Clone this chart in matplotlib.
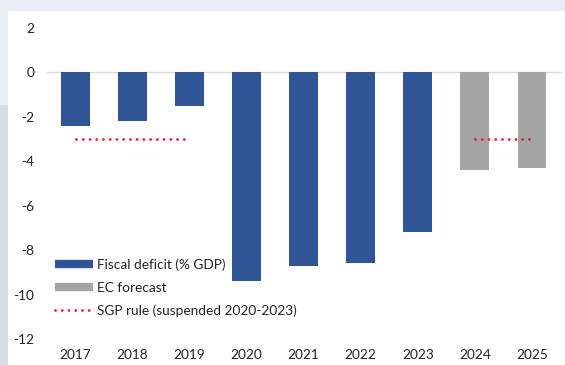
import numpy as np
import matplotlib.pyplot as plt
from matplotlib.lines import Line2D
from matplotlib.patches import Rectangle

years = ["2017", "2018", "2019", "2020", "2021", "2022", "2023", "2024", "2025"]
deficit = [-2.4, -2.2, -1.5, -9.4, -8.7, -8.6, -7.2, -4.4, -4.3]
is_forecast = [False, False, False, False, False, False, False, True, True]
sgp_rule = [-3, -3, -3, np.nan, np.nan, np.nan, np.nan, -3, -3]

blue = "#2f5597"
grey = "#a5a5a5"
red = "#e3263c"

plt.rcParams["font.family"] = ["Lato", "DejaVu Sans"]

fig = plt.figure(figsize=(5.65, 3.65), dpi=100)
fig.patch.set_facecolor("white")

# background frame strips
fig.add_artist(Rectangle((0, 1 - 10.5 / 365), 1, 10.5 / 365, transform=fig.transFigure,
                         facecolor="#e8edf5", edgecolor="none", zorder=0))
fig.add_artist(Rectangle((0, 1 - 105 / 365), 8 / 565, 105 / 365, transform=fig.transFigure,
                         facecolor="#e8edf5", edgecolor="none", zorder=0))
fig.add_artist(Rectangle((0, 0), 8 / 565, 1 - 105 / 365, transform=fig.transFigure,
                         facecolor="#d6dde6", edgecolor="none", zorder=0))

ax = fig.add_axes([47 / 565, 1 - 339 / 365, (562 - 47) / 565, (339 - 28) / 365])
ax.set_facecolor("none")

x = np.arange(len(years))
colors = [grey if f else blue for f in is_forecast]
ax.bar(x, deficit, width=0.5, color=colors, zorder=2)

ax.axhline(0, color="#d9d9d9", linewidth=1, zorder=1)

dot_style = dict(color=red, linewidth=2.1, dashes=(0.01, 2.3), dash_capstyle="round")
ax.plot(x, sgp_rule, zorder=3, **dot_style)

ax.set_xlim(-0.5, 8.53)
ax.set_ylim(-12, 2)
ax.set_yticks(range(-12, 3, 2))
ax.set_yticklabels([str(v) for v in range(-12, 3, 2)])
ax.set_xticks(x)
ax.set_xticklabels(years)
ax.tick_params(length=0, labelsize=9.8, colors="#222222")
ax.tick_params(axis="y", pad=9)
ax.tick_params(axis="x", pad=7)
for s in ax.spines.values():
    s.set_visible(False)

handles = [
    Line2D([], [], color=blue, linewidth=6, solid_capstyle="butt"),
    Line2D([], [], color=grey, linewidth=6, solid_capstyle="butt"),
    Line2D([], [], **dot_style),
]
labels = ["Fiscal deficit (% GDP)", "EC forecast", "SGP rule (suspended 2020-2023)"]
leg = ax.legend(handles, labels, loc="lower left", bbox_to_anchor=(0.0, 0.045),
                frameon=False, fontsize=9.8, handlelength=2.8, handletextpad=0.3,
                labelspacing=0.78, borderaxespad=0.2)
for t in leg.get_texts():
    t.set_color("#222222")

fig.savefig("out.png", dpi=100)
